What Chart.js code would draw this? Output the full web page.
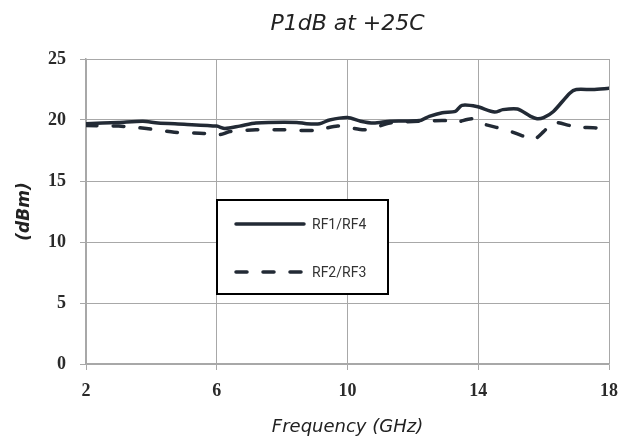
<!DOCTYPE html>
<html>
<head>
<meta charset="utf-8">
<script src="https://cdn.jsdelivr.net/npm/chart.js@4.4.1/dist/chart.umd.min.js"></script>
<style>
  html, body { margin: 0; padding: 0; background: #fff; }
  #wrap { width: 635px; height: 443px; position: relative; }
</style>
</head>
<body>
<div id="wrap"><canvas id="p1db"></canvas></div>
<script>
// data
const rf14Freq = [2, 3.0, 3.74, 4.2, 5.0, 6.0, 6.25, 6.7, 7.2, 8.45, 8.75, 9.15, 9.45, 10.0, 10.4, 10.8, 11.3, 12.2, 12.5, 12.9, 13.3, 13.5, 13.95, 14.5, 14.75, 15.2, 15.6, 15.8, 16.0, 16.3, 16.8, 17.0, 17.5, 18.0];
const rf14Vals = [19.7, 19.8, 19.9, 19.75, 19.65, 19.5, 19.3, 19.5, 19.75, 19.8, 19.7, 19.7, 20.0, 20.2, 19.9, 19.75, 19.9, 19.95, 20.3, 20.6, 20.7, 21.2, 21.1, 20.65, 20.85, 20.9, 20.3, 20.1, 20.2, 20.7, 22.2, 22.5, 22.5, 22.6];

const rf23Freq = [2, 3.0, 3.85, 4.7, 5.6, 6.1, 6.4, 7.2, 8.0, 8.95, 9.7, 10.0, 10.5, 10.8, 11.3, 12.2, 13.0, 13.3, 13.8, 14.05, 14.55, 14.9, 15.35, 15.7, 16.0, 16.3, 16.8, 17.1, 17.6, 18.0];
const rf23Vals = [19.55, 19.5, 19.3, 19.0, 18.9, 18.8, 19.05, 19.2, 19.2, 19.15, 19.5, 19.4, 19.2, 19.35, 19.75, 19.9, 19.95, 19.8, 20.1, 19.75, 19.4, 19.15, 18.7, 18.4, 19.05, 19.8, 19.55, 19.4, 19.35, 18.85];

const seriesNames = ['RF1/RF4', 'RF2/RF3'];
const xTicks = [2, 6, 10, 14, 18];
const yTicks = [0, 5, 10, 15, 20, 25];

const lineColor = '#222a35';
const gridColor = '#a8a8a8';
const tickFont = { family: '"Liberation Serif", serif', size: 18, weight: 'bold' };
const sansFam = '"DejaVu Sans", sans-serif';

function pairs(xs, ys) {
  return xs.map((x, i) => ({ x: x, y: ys[i] }));
}

// boxed legend sitting inside the plot
const boxLegend = {
  id: 'boxLegend',
  afterDatasetsDraw(chart) {
    const c = chart.ctx;
    c.save();
    c.fillStyle = '#fff';
    c.fillRect(217, 200, 171, 94);
    c.strokeStyle = '#000';
    c.lineWidth = 2;
    c.strokeRect(217, 200, 171, 94);
    const rows = [224, 272];
    chart.data.datasets.forEach((ds, i) => {
      c.strokeStyle = ds.borderColor;
      c.lineWidth = ds.borderWidth;
      c.lineCap = 'round';
      c.setLineDash(ds.borderDash || []);
      c.beginPath();
      c.moveTo(236, rows[i]);
      c.lineTo(304, rows[i]);
      c.stroke();
      c.setLineDash([]);
      c.fillStyle = '#333';
      c.font = '14px Roboto, sans-serif';
      c.textBaseline = 'middle';
      c.fillText(ds.label, 312, rows[i] + 1);
    });
    c.restore();
  }
};

new Chart(document.getElementById('p1db'), {
  type: 'line',
  data: {
    datasets: [
      {
        label: seriesNames[0],
        data: pairs(rf14Freq, rf14Vals),
        borderColor: lineColor,
        borderWidth: 3.5,
        borderCapStyle: 'round',
        borderJoinStyle: 'round',
        pointRadius: 0,
        tension: 0.25,
        fill: false
      },
      {
        label: seriesNames[1],
        data: pairs(rf23Freq, rf23Vals),
        borderColor: lineColor,
        borderWidth: 3.5,
        borderDash: [11, 16],
        borderCapStyle: 'round',
        borderJoinStyle: 'round',
        pointRadius: 0,
        tension: 0.25,
        fill: false
      }
    ]
  },
  options: {
    responsive: true,
    maintainAspectRatio: false,
    animation: false,
    layout: { padding: { left: 0, right: 26, top: 0, bottom: 0 } },
    plugins: {
      legend: { display: false },
      tooltip: { enabled: false },
      title: {
        display: true,
        fullSize: false,
        text: 'P1dB at +25C',
        color: '#222',
        font: { family: sansFam, size: 22, style: 'italic', weight: 'normal' },
        padding: { top: 11, bottom: 21.6 }
      }
    },
    scales: {
      x: {
        type: 'linear',
        min: 2,
        max: 18,
        afterFit(scale) { scale.height = 79; },
        afterBuildTicks(scale) { scale.ticks = xTicks.map(v => ({ value: v })); },
        grid: { color: gridColor, lineWidth: 1, tickLength: 6, drawTicks: true },
        border: { color: gridColor, width: 1.5 },
        ticks: { color: '#2a2a2a', font: tickFont, padding: 11, maxRotation: 0 },
        title: {
          display: true,
          text: 'Frequency (GHz)',
          color: '#222',
          font: { family: sansFam, size: 18, style: 'italic' },
          padding: { top: 0, bottom: 5 }
        }
      },
      y: {
        min: 0,
        max: 25,
        afterFit(scale) { scale.width = 86; },
        afterBuildTicks(scale) { scale.ticks = yTicks.map(v => ({ value: v })); },
        grid: { color: gridColor, lineWidth: 1, tickLength: 6, drawTicks: true },
        border: { color: gridColor, width: 1.5 },
        ticks: { color: '#2a2a2a', font: tickFont, padding: 14 },
        title: {
          display: true,
          text: '(dBm)',
          color: '#222',
          font: { family: sansFam, size: 17, style: 'italic', weight: 'bold' },
          padding: { top: 14, bottom: 0 }
        }
      }
    }
  },
  plugins: [boxLegend]
});
</script>
</body>
</html>
